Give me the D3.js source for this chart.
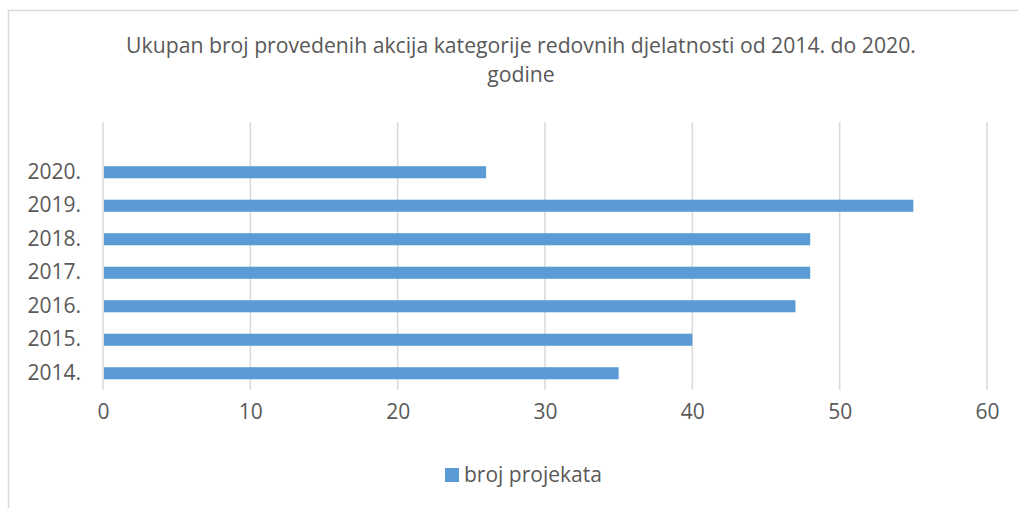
<!DOCTYPE html>
<html>
<head>
<meta charset="utf-8">
<script src="https://cdn.jsdelivr.net/npm/d3@7"></script>
<style>
  html, body { margin: 0; padding: 0; background: #fff; }
  svg { display: block; font-family: "Open Sans", sans-serif; }
</style>
</head>
<body>
<svg id="chart" width="1018" height="508"></svg>
<script>
const titleLines = ["Ukupan broj provedenih akcija kategorije redovnih djelatnosti od 2014. do 2020.", "godine"];
const categories = ["2014.", "2015.", "2016.", "2017.", "2018.", "2019.", "2020."];
const values = [35, 40, 47, 48, 48, 55, 26];
const xTicks = [0, 10, 20, 30, 40, 50, 60];
const seriesName = "broj projekata";

(function () {
const svg = d3.select("#chart");
const W = 1018, H = 508;
const pLeft = 103, pRight = 987, pTop = 122, pBottom = 390;
const textColor = "#595959", gridColor = "#d9d9d9", barColor = "#5b9bd5";
const fs = 21;

svg.append("rect").attr("width", W).attr("height", H).attr("fill", "#fff");
// frame
svg.append("path").attr("d", `M8.5,${H} V10.5 H${W}`).attr("fill", "none")
  .attr("stroke", gridColor).attr("stroke-width", 1.5);

// title
const title = svg.append("text").attr("text-anchor", "middle").attr("fill", textColor)
  .attr("font-size", 21.2);
titleLines.forEach((t, i) => {
  title.append("tspan").attr("x", 521).attr("y", 53 + i * 28.5).text(t);
});

const x = d3.scaleLinear().domain([0, 60]).range([pLeft, pRight]);
// blank slot at top (empty category in original)
const y = d3.scaleBand().domain(["__blank__"].concat(categories.slice().reverse()))
  .range([pTop, pBottom]).paddingInner(0.64).paddingOuter(0.32);

// grid
svg.append("g").selectAll("line").data(xTicks).join("line")
  .attr("x1", d => x(d)).attr("x2", d => x(d)).attr("y1", pTop).attr("y2", pBottom)
  .attr("stroke", gridColor).attr("stroke-width", 1.5);

// bars
svg.append("g").selectAll("rect").data(categories).join("rect")
  .attr("x", x(0) + 1).attr("y", d => y(d))
  .attr("width", (d, i) => x(values[i]) - x(0) - 1).attr("height", y.bandwidth())
  .attr("fill", barColor);

// x axis labels
const xAxis = d3.axisBottom(x).tickValues(xTicks).tickSize(0).tickPadding(0);
const gx = svg.append("g").attr("transform", `translate(0,${pBottom + 24})`).call(xAxis);
gx.select(".domain").remove();
gx.selectAll("text").attr("fill", textColor).attr("font-size", fs)
  .attr("font-family", "Open Sans, sans-serif").attr("dy", "0.25em");

// y axis labels
const yAxis = d3.axisLeft(y).tickValues(categories).tickSize(0).tickPadding(0);
const gy = svg.append("g").attr("transform", `translate(81,0)`).call(yAxis);
gy.select(".domain").remove();
gy.selectAll("text").attr("fill", textColor).attr("font-size", fs)
  .attr("font-family", "Open Sans, sans-serif");

// legend
const lg = svg.append("g");
lg.append("rect").attr("x", 445).attr("y", 468).attr("width", 14).attr("height", 14).attr("fill", barColor);
lg.append("text").attr("x", 464).attr("y", 475).attr("dy", "0.35em")
  .attr("fill", textColor).attr("font-size", fs).text(seriesName);
})();
</script>
</body>
</html>
